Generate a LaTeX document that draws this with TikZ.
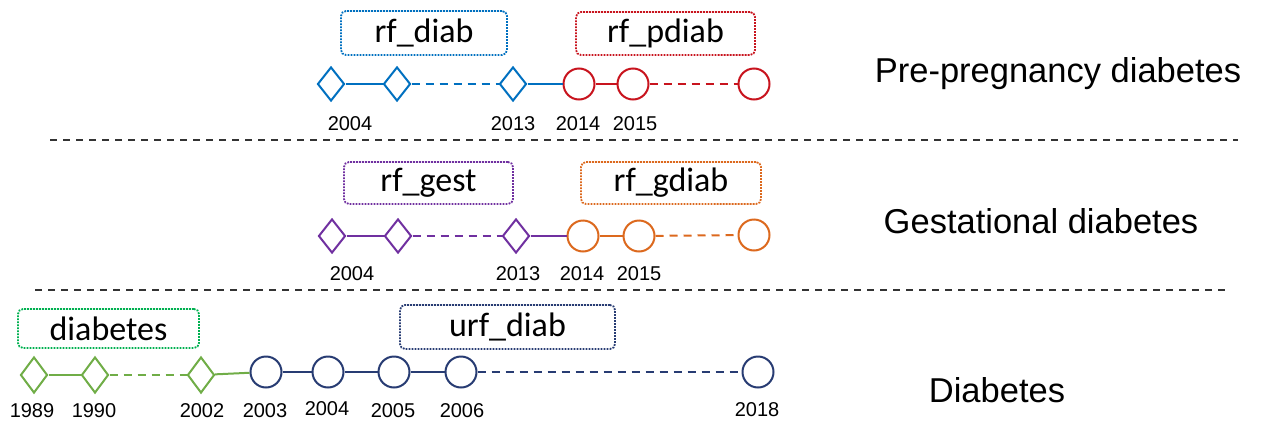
\documentclass[tikz,border=0pt]{standalone}
\usepackage{fontspec}
\setmainfont{Liberation Sans}
\newfontfamily\boxfont{Carlito}
\usetikzlibrary{shapes.geometric}
\definecolor{cblue}{RGB}{0,112,192}
\definecolor{cred}{RGB}{200,20,30}
\definecolor{cpurple}{RGB}{112,48,160}
\definecolor{corange}{RGB}{220,105,30}
\definecolor{cgreen}{RGB}{112,173,71}
\definecolor{cbgreen}{RGB}{0,176,80}
\definecolor{cnavy}{RGB}{40,60,115}
\begin{document}
\begin{tikzpicture}[x=1pt,y=-1pt,
		dia/.style={diamond,draw=#1,fill=white,line width=2pt,inner sep=0pt,minimum width=27pt,minimum height=34pt},
		yr/.style={circle,draw=#1,fill=white,line width=2pt,inner sep=0pt,minimum size=31pt},
		link/.style={line width=2pt,#1},
		gap/.style={line width=2pt,#1,dash pattern=on 8pt off 6pt},
		tag/.style={draw=#1,rounded corners=5pt,line width=1.8pt,dash pattern=on 1.8pt off 1.2pt,font=\boxfont\fontsize{34}{36}\selectfont},
		year/.style={anchor=base,font=\fontsize{20}{22}\selectfont},
		title/.style={anchor=base,font=\fontsize{34.5}{40}\selectfont},
		split/.style={line width=1.6pt,black!80,dash pattern=on 7pt off 6pt}]
		\useasboundingbox (0,0) rectangle (1261,426);
		% separators
		\coordinate (s1a) at (50,140);
		\coordinate (s1b) at (1238,140);
		\coordinate (s2a) at (35,290);
		\coordinate (s2b) at (1228,290);
		\draw[split] (s1a) -- (s1b);
		\draw[split] (s2a) -- (s2b);

		% pre-pregnancy diabetes
		\node[tag=cblue,minimum width=166pt,minimum height=44pt] (rfdiab) at (424,33) {rf\_diab};
		\node[tag=cred,minimum width=179pt,minimum height=43pt] (rfpdiab) at (665.5,33.5) {rf\_pdiab};
		\node[dia=cblue] (pd1) at (331,84) {};
		\node[dia=cblue] (pd2) at (397,84) {};
		\node[dia=cblue] (pd3) at (513,84) {};
		\node[yr=cred] (pc1) at (579,84) {};
		\node[yr=cred] (pc2) at (633,84) {};
		\node[yr=cred] (pc3) at (754,84) {};
		\draw[link=cblue] (pd1) -- (pd2);
		\draw[gap=cblue] (pd2) -- (pd3);
		\draw[link=cblue] (pd3) -- (pc1);
		\draw[link=cred] (pc1) -- (pc2);
		\draw[gap=cred] (pc2) -- (pc3);
		\node[year] (py1) at (350,130) {2004};
		\node[year] (py2) at (513,130) {2013};
		\node[year] (py3) at (578,130) {2014};
		\node[year] (py4) at (635,130) {2015};
		\node[title] (pretitle) at (1058,82) {Pre-pregnancy diabetes};

		% gestational diabetes
		\node[tag=cpurple,minimum width=169pt,minimum height=42pt] (rfgest) at (428.5,183) {rf\_gest};
		\node[tag=corange,minimum width=180pt,minimum height=42pt] (rfgdiab) at (671,183) {rf\_gdiab};
		\node[dia=cpurple] (gd1) at (332,236) {};
		\node[dia=cpurple] (gd2) at (398,236) {};
		\node[dia=cpurple] (gd3) at (516,236) {};
		\node[yr=corange] (gc1) at (583,236) {};
		\node[yr=corange] (gc2) at (639,236) {};
		\node[yr=corange] (gc3) at (754,235) {};
		\draw[link=cpurple] (gd1) -- (gd2);
		\draw[gap=cpurple] (gd2) -- (gd3);
		\draw[link=cpurple] (gd3) -- (gc1);
		\draw[link=corange] (gc1) -- (gc2);
		\draw[gap=corange] (gc2) -- (gc3);
		\node[year] (gy1) at (352,280) {2004};
		\node[year] (gy2) at (518,280) {2013};
		\node[year] (gy3) at (582,280) {2014};
		\node[year] (gy4) at (639,280) {2015};
		\node[title] (gesttitle) at (1041,233) {Gestational diabetes};

		% diabetes
		\node[tag=cbgreen,minimum width=181pt,minimum height=39pt] (diab) at (108.5,328.5) {diabetes};
		\node[tag=cnavy,minimum width=215pt,minimum height=44pt] (urfdiab) at (507.5,327) {urf\_diab};
		\node[dia=cgreen,minimum height=36pt] (dd1) at (34,375) {};
		\node[dia=cgreen,minimum height=36pt] (dd2) at (95,375) {};
		\node[dia=cgreen,minimum height=36pt] (dd3) at (201,375) {};
		\node[yr=cnavy] (dc1) at (266,372) {};
		\node[yr=cnavy] (dc2) at (328,372) {};
		\node[yr=cnavy] (dc3) at (394,372) {};
		\node[yr=cnavy] (dc4) at (461,372) {};
		\node[yr=cnavy] (dc5) at (758,372) {};
		\draw[link=cgreen] (dd1) -- (dd2);
		\draw[gap=cgreen] (dd2) -- (dd3);
		\draw[link=cgreen] (dd3) -- (dc1);
		\draw[link=cnavy] (dc1) -- (dc2);
		\draw[link=cnavy] (dc2) -- (dc3);
		\draw[link=cnavy] (dc3) -- (dc4);
		\draw[gap=cnavy] (dc4) -- (dc5);
		\node[year] (dy1) at (32,417) {1989};
		\node[year] (dy2) at (94,417) {1990};
		\node[year] (dy3) at (202,417) {2002};
		\node[year] (dy4) at (265,417) {2003};
		\node[year] (dy5) at (327,415) {2004};
		\node[year] (dy6) at (393,417) {2005};
		\node[year] (dy7) at (462,417) {2006};
		\node[year] (dy8) at (757,416) {2018};
		\node[title] (diabtitle) at (997,402) {Diabetes};
	\end{tikzpicture}
\end{document}
